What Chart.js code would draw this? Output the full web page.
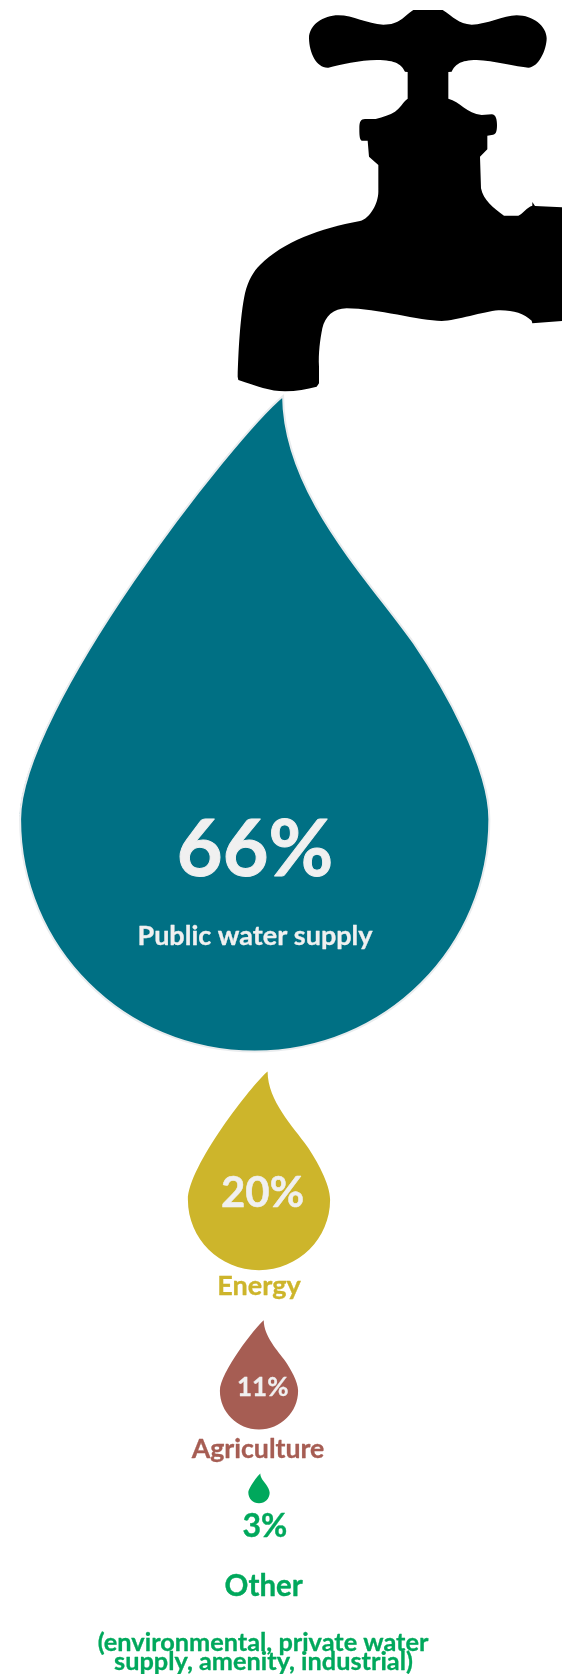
<!DOCTYPE html>
<html>
<head>
<meta charset="utf-8">
<title>Water abstraction by use</title>
<style>html,body{margin:0;padding:0;background:#fff}canvas{display:block}</style>
<script src="https://cdn.jsdelivr.net/npm/chart.js@4/dist/chart.umd.min.js"></script>
</head>
<body>
<canvas id="chart" width="562" height="1674"></canvas>
<script>
// Share of water use per sector, in percent
const categories = ['Public water supply', 'Energy', 'Agriculture', 'Other'];
const shares = [66, 20, 11, 3];
const noteLines = ['(environmental, private water', 'supply, amenity, industrial)'];
const sectorColors = ['#007084', '#CDB52B', '#A65D53', '#00A85C'];

// Page layout: drops are sized from their share and hang one below the other
const PX_PER_PERCENT = 7.11;
const DROP_ASPECT = 1.397;
const dropGaps = [396, 20, 50, 44];
const dropShift = [-0.6, 0, 0, 0];
const AXIS_ZERO_PX = 259;
const PAGE_W = 562, PAGE_H = 1674;
const TEXT_FONT = 'Lato, Carlito, "Open Sans", sans-serif';
const LIGHT = '#F0F0F0';

// Running depth of each drop's centre, on the vertical axis
const dropCentres = [];
shares.reduce((depth, share, i) => {
  const h = share * PX_PER_PERCENT * DROP_ASPECT;
  dropCentres.push(depth + dropGaps[i] + h / 2);
  return depth + dropGaps[i] + h;
}, 0);

// Teardrop outline, unit box: x from -0.5 to 0.5 of the width, y from 0 (tip) to 1
const n = (x, y) => [(x - 763) / 1406, (y - 38) / 1490];
const DROP_START = n(848, 38);
const DROP_CURVES = [
  [n(700, 130), n(60, 750), n(60, 1000)],
  [n(60, 1290), n(370, 1528), n(763, 1528)],
  [n(1156, 1528), n(1466, 1290), n(1466, 1000)],
  [n(1466, 880), n(1330, 700), n(1240, 600)],
  [n(1100, 450), n(850, 260), n(848, 38)]
];

class DropBar extends Chart.BarElement {
  static id = 'dropBar';
  draw(ctx) {
    const o = this.options;
    const w = Math.abs(this.x - this.base);
    const h = w * DROP_ASPECT;
    const cx = (this.x + this.base) / 2;
    const top = this.y - h / 2;
    const px = p => [cx + p[0] * w, top + p[1] * h];
    ctx.save();
    ctx.beginPath();
    ctx.moveTo(...px(DROP_START));
    DROP_CURVES.forEach(c => ctx.bezierCurveTo(...px(c[0]), ...px(c[1]), ...px(c[2])));
    ctx.closePath();
    ctx.fillStyle = o.backgroundColor;
    ctx.fill();
    if (o.borderWidth) {
      ctx.strokeStyle = o.borderColor;
      ctx.lineWidth = o.borderWidth;
      ctx.stroke();
    }
    ctx.restore();
  }
}

class DropController extends Chart.BarController {
  static id = 'dropBars';
  static defaults = { dataElementType: 'dropBar' };
}
Chart.register(DropBar, DropController);

// Tap silhouette, traced on a 3x grid anchored at x = 220
const TAP_PATH = [
  'M580 30 L668 30 C700 50 715 72 755 74 C800 74 850 46 890 46 C940 46 980 80 980 115',
  'C980 150 955 203 925 203 C890 200 820 182 770 180 C720 180 705 195 695 215 L685 216 L685 296',
  'C720 305 740 340 785 345 L815 343 C828 343 831 360 831 375 C831 395 828 405 815 405 L802 407',
  'L802 448 L780 470 L783 565 C790 600 820 625 852 647 L895 647 C910 640 920 622 937 617',
  'L937 606 L945 618 L1026 622 L1026 963 L937 970 L935 962 C910 940 880 930 835 931',
  'C790 935 710 962 665 963 C600 963 470 925 380 925 C340 925 315 950 307 985',
  'C300 1020 295 1060 297 1100 L297 1150 L290 1160 C260 1168 230 1174 195 1174',
  'C150 1174 110 1158 55 1140 L53 1130 C55 1060 60 950 75 880 C85 840 100 815 120 795',
  'C190 725 300 685 420 663 C450 655 475 610 475 575 L475 495 L447 470 L443 422 L425 422',
  'C418 420 418 400 418 385 C418 365 422 357 435 357 L467 357 C490 350 510 345 525 335',
  'C540 325 550 305 563 296 L563 216 L555 215 C545 195 530 180 470 180 C420 180 360 195 325 203',
  'C290 205 268 160 267 115 C267 75 310 46 355 46 C400 46 440 72 490 74 C540 74 550 50 580 30 Z'
].join(' ');

const tapPlugin = {
  id: 'tap',
  beforeDatasetsDraw(chart) {
    const ctx = chart.ctx;
    ctx.save();
    ctx.beginPath();
    ctx.rect(0, 0, PAGE_W, PAGE_H);
    ctx.clip();
    ctx.translate(220, 0);
    ctx.scale(1 / 3, 1 / 3);
    ctx.fillStyle = '#000';
    ctx.fill(new Path2D(TAP_PATH));
    ctx.restore();
  }
};

// Value and sector captions: text, centre x, baseline y, size, colour
const captions = [
  [shares[0] + '%', 255, 876, 79, LIGHT],
  [categories[0], 255, 945, 27, LIGHT],
  [shares[1] + '%', 262.5, 1207, 42, LIGHT],
  [categories[1], 259, 1294.5, 27, sectorColors[1]],
  [shares[2] + '%', 262.7, 1396, 26, LIGHT],
  [categories[2], 258, 1458, 26.7, sectorColors[2]],
  [shares[3] + '%', 264.8, 1537, 32, sectorColors[3]],
  [categories[3], 263.7, 1595.5, 29.5, sectorColors[3]],
  [noteLines[0], 263, 1650.7, 25.3, sectorColors[3]],
  [noteLines[1], 263.5, 1670, 25.3, sectorColors[3]]
];

const captionPlugin = {
  id: 'captions',
  afterDatasetsDraw(chart) {
    const ctx = chart.ctx;
    ctx.save();
    ctx.textAlign = 'center';
    ctx.textBaseline = 'alphabetic';
    ctx.lineJoin = 'round';
    captions.forEach(([text, x, y, size, color]) => {
      ctx.font = `bold ${size}px ${TEXT_FONT}`;
      ctx.fillStyle = color;
      ctx.strokeStyle = color;
      ctx.lineWidth = size * 0.012;
      ctx.fillText(text, x, y);
      ctx.strokeText(text, x, y);
    });
    ctx.restore();
  }
};

new Chart(document.getElementById('chart'), {
  type: 'dropBars',
  data: {
    labels: categories,
    datasets: [{
      data: shares.map((share, i) => ({
        x: [dropShift[i] - share / 2, dropShift[i] + share / 2],
        y: dropCentres[i]
      })),
      backgroundColor: sectorColors,
      borderColor: ['#E9ECEE', 'rgba(0,0,0,0)', 'rgba(0,0,0,0)', 'rgba(0,0,0,0)'],
      borderWidth: [2, 0, 0, 0],
      grouped: false
    }]
  },
  options: {
    indexAxis: 'y',
    responsive: false,
    animation: false,
    layout: { padding: 0 },
    plugins: { legend: { display: false }, tooltip: { enabled: false } },
    scales: {
      x: { type: 'linear', display: false, min: -AXIS_ZERO_PX / PX_PER_PERCENT, max: (PAGE_W - AXIS_ZERO_PX) / PX_PER_PERCENT },
      y: { type: 'linear', display: false, offset: false, reverse: true, min: 0, max: PAGE_H }
    }
  },
  plugins: [tapPlugin, captionPlugin]
});
</script>
</body>
</html>
